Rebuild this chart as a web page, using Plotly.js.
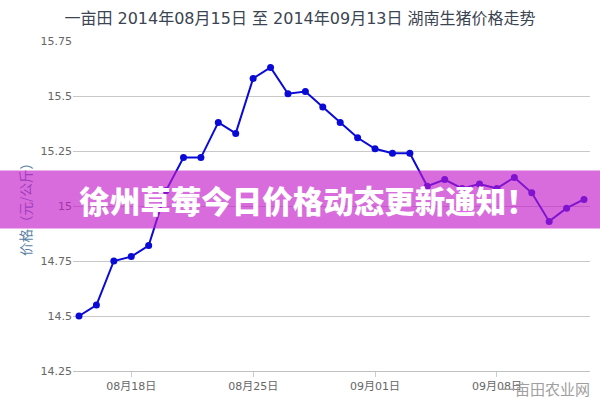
<!DOCTYPE html>
<html>
<head>
<meta charset="utf-8">
<script src="https://cdn.plot.ly/plotly-3.0.1.min.js"></script>
<style>html,body{margin:0;padding:0;background:#fff;}#chart{width:600px;height:400px;}</style>
</head>
<body>
<div id="chart"></div>
<script>
// Data
const dates = [
  '2014-08-15','2014-08-16','2014-08-17','2014-08-18','2014-08-19','2014-08-20',
  '2014-08-21','2014-08-22','2014-08-23','2014-08-24','2014-08-25','2014-08-26',
  '2014-08-27','2014-08-28','2014-08-29','2014-08-30','2014-08-31','2014-09-01',
  '2014-09-02','2014-09-03','2014-09-04','2014-09-05','2014-09-06','2014-09-07',
  '2014-09-08','2014-09-09','2014-09-10','2014-09-11','2014-09-12','2014-09-13'
];
const prices = [
  14.50, 14.55, 14.75, 14.77, 14.82, 15.07,
  15.22, 15.22, 15.38, 15.33, 15.58, 15.63,
  15.51, 15.52, 15.45, 15.38, 15.31, 15.26,
  15.24, 15.24, 15.09, 15.12, 15.08, 15.10,
  15.08, 15.13, 15.06, 14.93, 14.99, 15.03
];
const tickDates = ['2014-08-18','2014-08-25','2014-09-01','2014-09-08'];
const tickLabels = ['08月18日','08月25日','09月01日','09月08日'];
const yTicks = [14.25, 14.5, 14.75, 15, 15.25, 15.5, 15.75];
const yTickLabels = ['14.25','14.5','14.75','15','15.25','15.5','15.75'];
const chartTitle = '一亩田 2014年08月15日 至 2014年09月13日 湖南生猪价格走势';
const yTitle = '价格（元/公斤）';
const bannerText = '徐州草莓今日价格动态更新通知！';
const watermark = '一亩田农业网';

const FONT = 'DejaVu Sans, Noto Sans CJK SC, sans-serif';
const DAY = 86400000;
const pad = 0.345 * DAY;
const xStart = new Date(new Date(dates[0] + 'T00:00:00Z').getTime() - pad).toISOString();
const xEnd = new Date(new Date(dates[dates.length - 1] + 'T00:00:00Z').getTime() + pad).toISOString();

const trace = {
  type: 'scatter',
  mode: 'lines+markers',
  x: dates,
  y: prices,
  line: {color: 'rgb(10,10,215)', width: 2},
  marker: {color: 'rgb(10,10,215)', size: 7},
  hoverinfo: 'x+y'
};

const layout = {
  width: 600,
  height: 400,
  margin: {l: 73, r: 10, t: 41, b: 29},
  paper_bgcolor: '#ffffff',
  plot_bgcolor: '#ffffff',
  showlegend: false,
  font: {family: FONT, color: '#666666', size: 11},
  title: {
    text: chartTitle,
    x: 0.5, xref: 'container', xanchor: 'center',
    y: 1 - 18 / 400, yref: 'container', yanchor: 'middle',
    font: {family: FONT, size: 16, color: '#3b4452'}
  },
  xaxis: {
    type: 'date',
    range: [xStart, xEnd],
    tickvals: tickDates,
    ticktext: tickLabels,
    showgrid: false,
    zeroline: false,
    showline: true,
    linecolor: '#c0c0c0',
    linewidth: 1,
    ticks: 'outside',
    ticklen: 5,
    tickcolor: '#c0d0e0',
    tickfont: {family: FONT, size: 11, color: '#666666'}
  },
  yaxis: {
    range: [14.25, 15.75],
    tickvals: yTicks,
    ticktext: yTickLabels,
    showgrid: true,
    gridcolor: '#c8c8c8',
    gridwidth: 1,
    zeroline: false,
    showline: false,
    ticks: '',
    tickfont: {family: FONT, size: 11, color: '#666666'},
    title: {
      text: yTitle,
      standoff: 5,
      font: {family: 'Noto Sans CJK SC, sans-serif', size: 13.5, color: '#5a7fa6'}
    }
  },
  annotations: [
    {
      text: bannerText,
      xref: 'paper', yref: 'paper',
      x: (308 - 73) / 517, y: (371 - 199.5) / 330,
      xanchor: 'center', yanchor: 'middle',
      showarrow: false,
      width: 640, height: 57,
      align: 'center', valign: 'middle',
      bgcolor: 'rgba(195,25,200,0.64)',
      borderpad: 0,
      font: {family: 'Noto Sans CJK SC, sans-serif', size: 30.5, color: '#ffffff', weight: 900}
    },
    {
      text: watermark,
      xref: 'paper', yref: 'paper',
      x: (545 - 73) / 517, y: (371 - 389) / 330,
      xanchor: 'center', yanchor: 'middle',
      showarrow: false,
      font: {family: 'Noto Sans CJK SC, sans-serif', size: 15, color: '#a0a0a0'}
    }
  ]
};

Plotly.newPlot('chart', [trace], layout, {displayModeBar: false, staticPlot: true});
</script>
</body>
</html>
